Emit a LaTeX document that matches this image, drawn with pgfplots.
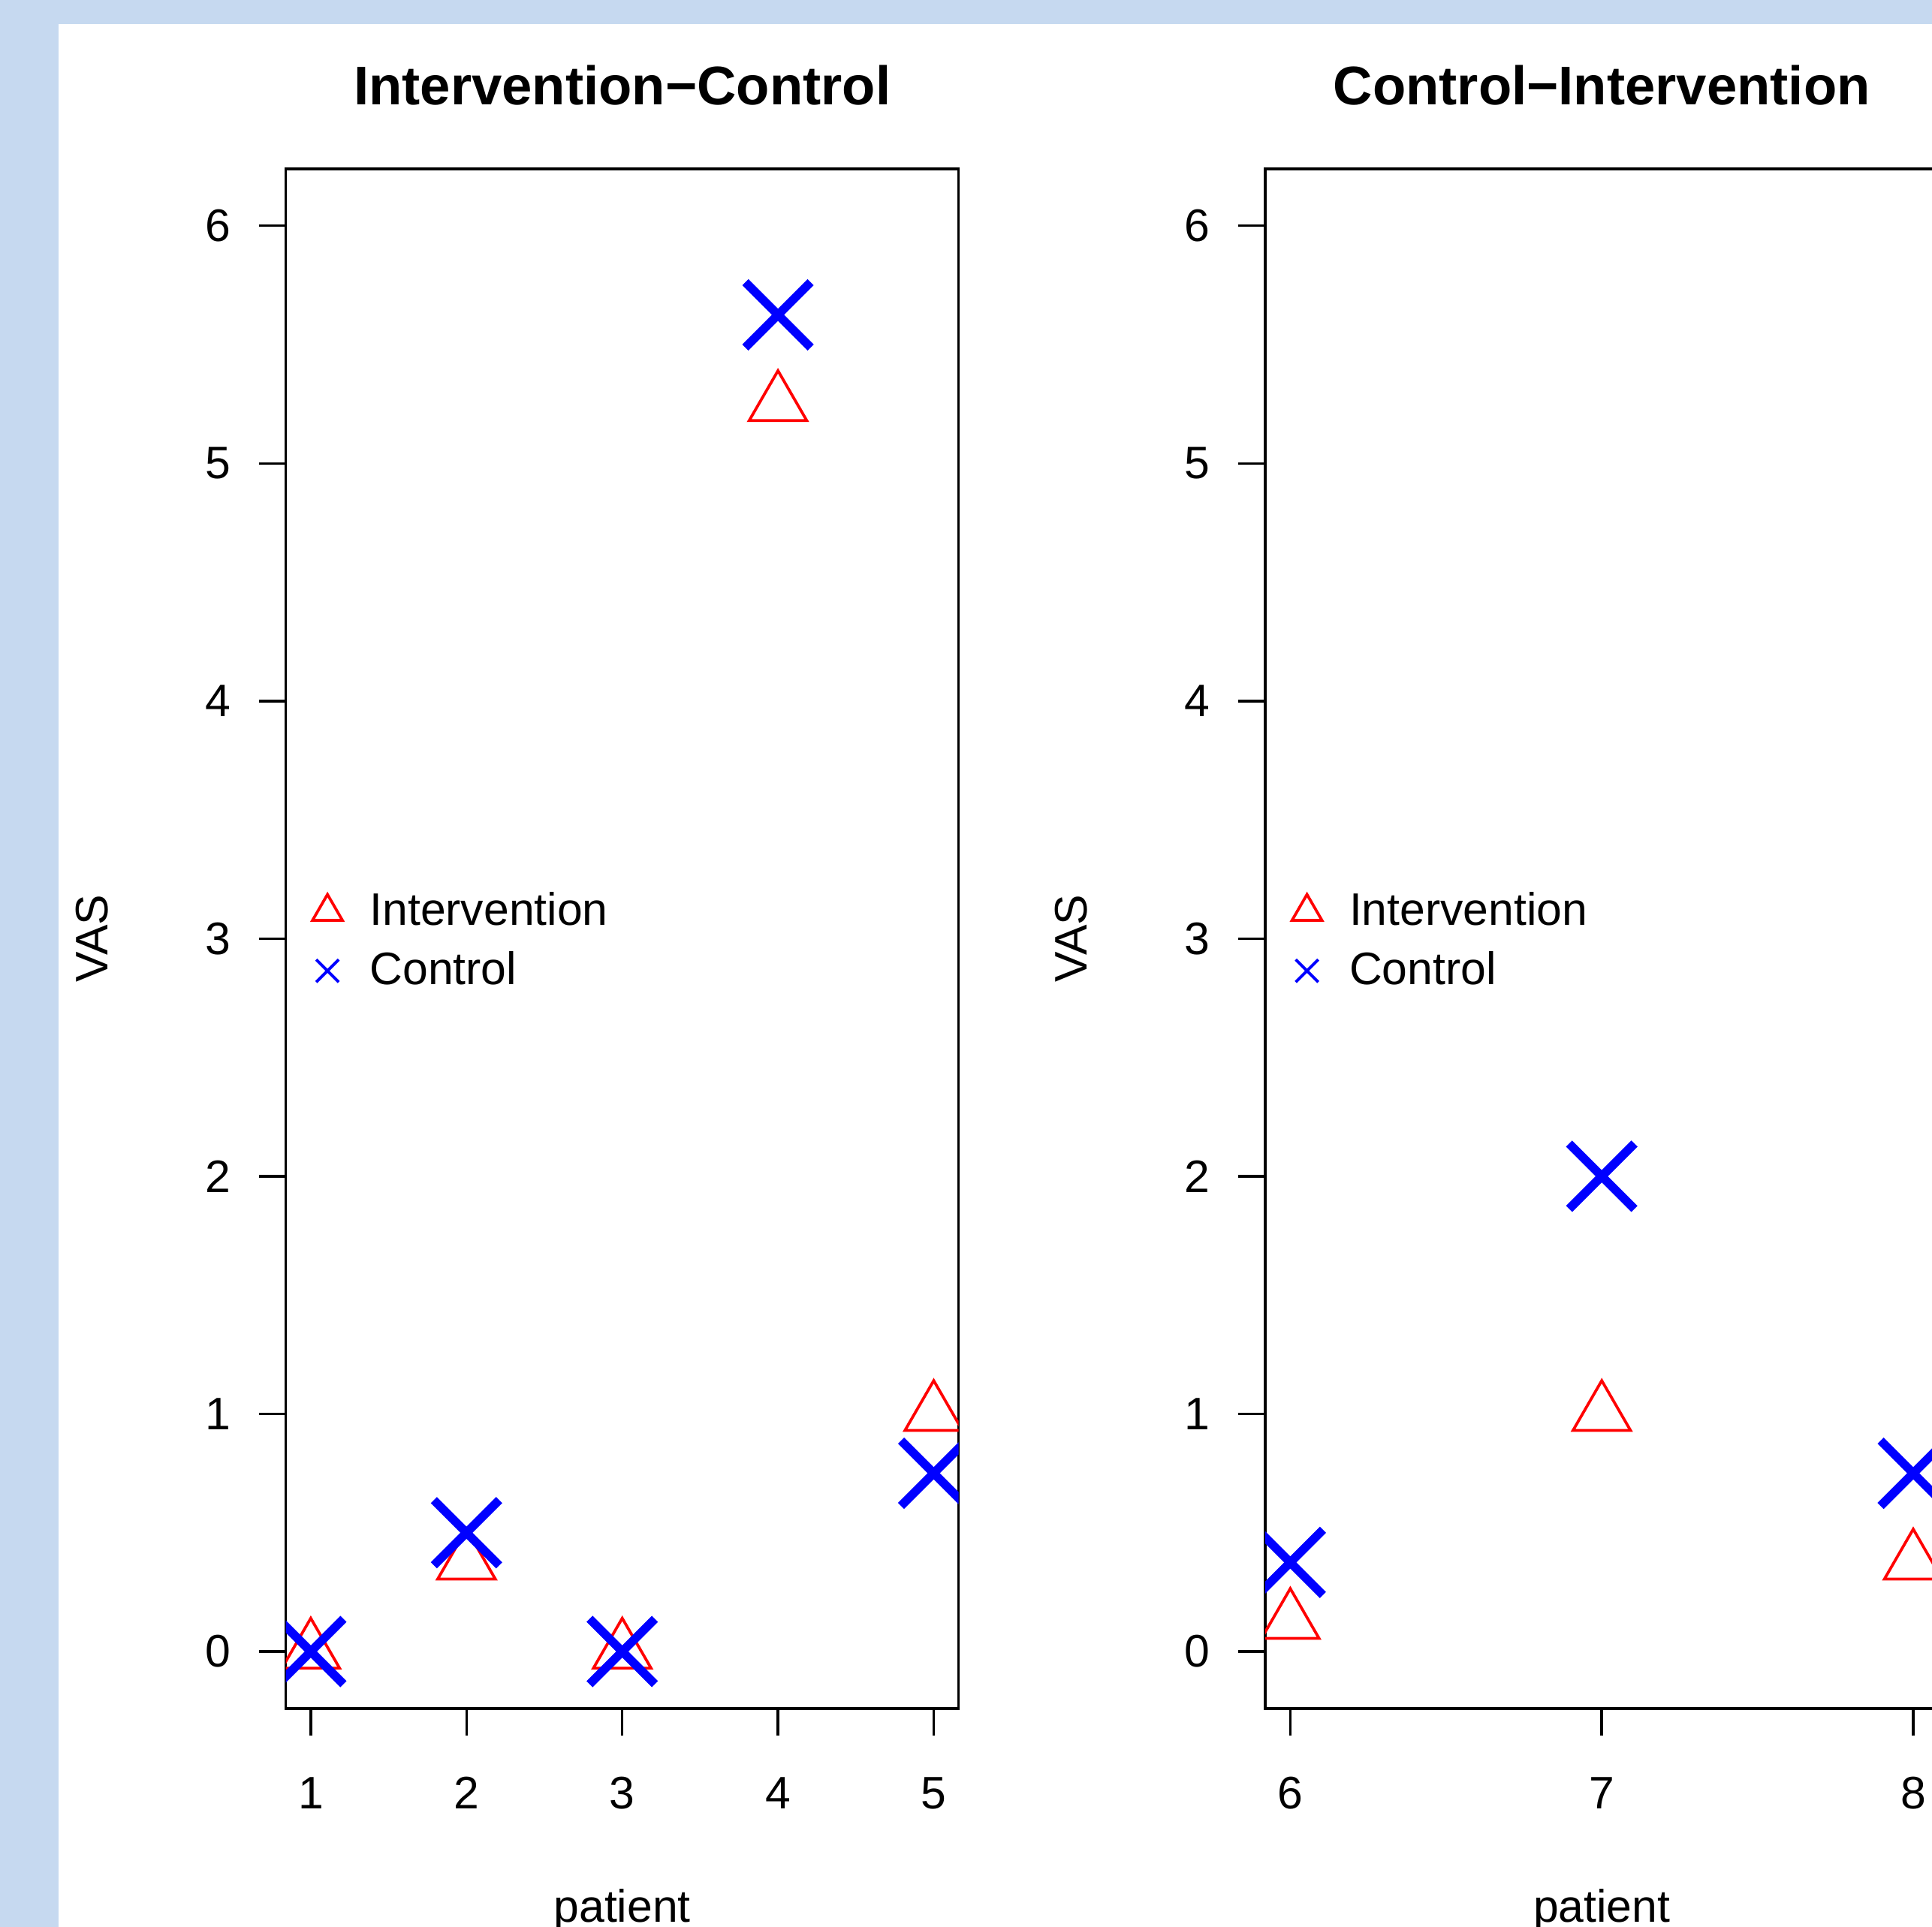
\documentclass[border=0pt]{standalone}
\usepackage{fontspec}
\setmainfont{Liberation Sans}
\usepackage{pgfplots}
\pgfplotsset{compat=1.18}
\definecolor{bgblue}{RGB}{198,217,240}
\definecolor{rred}{RGB}{255,0,0}
\definecolor{rblue}{RGB}{0,0,255}
\newcommand{\bfont}{\fontsize{12.14}{14.5}\selectfont}
\pgfdeclareplotmark{rtri}{%
  \pgfpathmoveto{\pgfqpoint{0pt}{\pgfplotmarksize}}%
  \pgfpathlineto{\pgfqpoint{0.8660254\pgfplotmarksize}{-0.5\pgfplotmarksize}}%
  \pgfpathlineto{\pgfqpoint{-0.8660254\pgfplotmarksize}{-0.5\pgfplotmarksize}}%
  \pgfpathclose
  \pgfusepathqstroke
}
\pgfdeclareplotmark{rx}{%
  \pgfpathmoveto{\pgfqpoint{-\pgfplotmarksize}{-\pgfplotmarksize}}%
  \pgfpathlineto{\pgfqpoint{\pgfplotmarksize}{\pgfplotmarksize}}%
  \pgfpathmoveto{\pgfqpoint{-\pgfplotmarksize}{\pgfplotmarksize}}%
  \pgfpathlineto{\pgfqpoint{\pgfplotmarksize}{-\pgfplotmarksize}}%
  \pgfusepathqstroke
}
\pgfplotsset{
  legend image code/.code={\draw[#1] plot coordinates {(0pt,0pt)};},
  rplot/.style={
    scale only axis, width=179.2pt, height=410.24pt, anchor=south west,
    ymin=-0.24, ymax=6.24, ytick={0,1,2,3,4,5,6},
    xtick pos=bottom, ytick pos=left,
    tick align=outside, major tick length=7.2pt,
    axis line style={line width=0.7pt},
    tick style={black, line width=0.7pt},
    tick label style={font=\bfont},
    /pgf/number format/assume math mode=true,
    xticklabel style={anchor=base, inner sep=0pt, yshift=-19.6pt},
    yticklabel style={anchor=east, inner sep=0pt, xshift=-7.3pt},
    every axis x label/.style={at={(axis description cs:0.5,0)}, anchor=base, yshift=-57pt, font=\bfont},
    every axis y label/.style={at={(axis description cs:0,0.5)}, xshift=-47.5pt, rotate=90, anchor=base, font=\bfont},
    every axis title/.style={at={(axis description cs:0.5,1)}, anchor=base, yshift=16.96pt, font=\bfseries\fontsize{14.5}{17}\selectfont},
    xlabel={patient}, ylabel={VAS},
    clip marker paths=true,
    legend style={draw=none, fill=none, at={(axis description cs:0,0.5)}, anchor=west, xshift=7.1pt, yshift=-0.7pt, inner sep=0pt, outer sep=0pt, nodes={inner sep=0pt}, column sep=7.3pt, row sep=5.45pt, font=\bfont},
    legend cell align=left,
  },
  tri/.style={only marks, mark=rtri, mark size=8.86pt, rred, line width=0.75pt, forget plot},
  crs/.style={only marks, mark=rx, mark size=8.7pt, rblue, line width=2.3pt, line cap=butt, forget plot},
}
\begin{document}
\begin{tikzpicture}
\useasboundingbox (0pt,0pt) rectangle (514.6pt,513.4pt);
\clip (0pt,0pt) rectangle (514.6pt,513.4pt);
\fill[bgblue] (0pt,0pt) rectangle (514.6pt,513.4pt);
\fill[white] (15.5pt,0pt) rectangle (514.6pt,507.0pt);
\begin{axis}[rplot, at={(76.14pt,58.2pt)}, xmin=0.84, xmax=5.16, xtick={1,2,3,4,5}, title={Intervention−Control}]
\addplot[tri] coordinates {(1,0) (2,0.375) (3,0) (4,5.25) (5,1)};
\addplot[crs] coordinates {(1,0) (2,0.5) (3,0) (4,5.625) (5,0.75)};
\addlegendimage{only marks, mark=rtri, mark size=4.6pt, rred, line width=0.75pt}
\addlegendentry{Intervention}
\addlegendimage{only marks, mark=rx, mark size=3pt, rblue, line width=0.75pt}
\addlegendentry{Control}
\end{axis}
\begin{axis}[rplot, at={(337.04pt,58.2pt)}, xmin=5.92, xmax=8.08, xtick={6,7,8}, title={Control−Intervention}]
\addplot[tri] coordinates {(6,0.125) (7,1) (8,0.375)};
\addplot[crs] coordinates {(6,0.375) (7,2) (8,0.75)};
\addlegendimage{only marks, mark=rtri, mark size=4.6pt, rred, line width=0.75pt}
\addlegendentry{Intervention}
\addlegendimage{only marks, mark=rx, mark size=3pt, rblue, line width=0.75pt}
\addlegendentry{Control}
\end{axis}
\end{tikzpicture}
\end{document}
